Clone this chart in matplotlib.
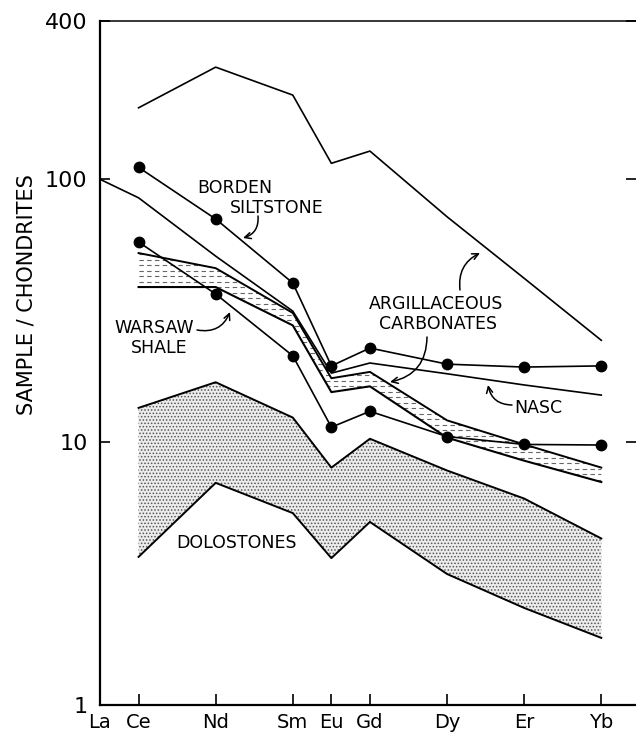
import numpy as np
import matplotlib
matplotlib.use("Agg")
import matplotlib.pyplot as plt
from matplotlib.collections import LineCollection

plt.rcParams['font.family'] = ['DejaVu Sans']
plt.rcParams['hatch.linewidth'] = 0.7

# Rare earth elements and their atomic numbers (x positions)
elements = ['La', 'Ce', 'Nd', 'Sm', 'Eu', 'Gd', 'Dy', 'Er', 'Yb']
atomic_number = [57, 58, 60, 62, 63, 64, 66, 68, 70]
z_ce_yb = atomic_number[1:]

# Chondrite-normalized REE patterns
argill_upper = [187, 267, 209, 115, 128, 72, 42, 24.4]          # Ce..Yb
borden = [111, 70.6, 40.3, 19.5, 22.8, 19.8, 19.3, 19.5]         # Ce..Yb
nasc = [100, 85, 51, 31.5, 18.3, 20.0, 18.2, 16.5, 15.1]         # La..Yb
warsaw = [57.7, 36.6, 21.3, 11.4, 13.1, 10.5, 9.8, 9.75]         # Ce..Yb
argill_band_hi = [52.4, 45.9, 31.0, 17.5, 18.5, 12.1, 9.8, 8.0]  # Ce..Yb
argill_band_lo = [38.9, 38.9, 27.8, 15.5, 16.3, 10.4, 8.5, 7.05]
dolo_hi = [13.5, 16.9, 12.4, 8.0, 10.3, 7.8, 6.1, 4.3]           # Ce..Yb
dolo_lo = [3.66, 7.0, 5.37, 3.62, 4.97, 3.15, 2.34, 1.80]

y_ticks = [1, 10, 100, 400]
y_ticklabels = ['1', '10', '100', '400']

W, H = 636, 734
fig = plt.figure(figsize=(W / 100, H / 100), dpi=100)
ax = fig.add_axes([100 / W, 29 / H, 1 - 100 / W, 684 / H])

ax.set_yscale('log')
ax.set_ylim(1, 400)
ax.set_xlim(57, 70.9)

lw = 1.2

# Dolostones: stippled range
ax.fill_between(z_ce_yb, dolo_lo, dolo_hi, facecolor='#ececec',
                edgecolor='#555555', hatch='.....', linewidth=0)
ax.plot(z_ce_yb, dolo_hi, color='black', lw=lw + 0.2)
ax.plot(z_ce_yb, dolo_lo, color='black', lw=lw + 0.2)

# Argillaceous carbonates: dashed-hatched range
band = ax.fill_between(z_ce_yb, argill_band_lo, argill_band_hi,
                       facecolor='none', edgecolor='none', linewidth=0)
step = 5.5 / 684
rows = np.arange(0, 1, step)
segs = [[(0, r), (1, r)] for r in rows]
hatch_lines = LineCollection(segs, transform=ax.transAxes, colors='#666666',
                             linewidths=0.8, linestyles=[(0, (4, 3))])
ax.add_collection(hatch_lines)
hatch_lines.set_clip_path(band.get_paths()[0], ax.transData)
ax.plot(z_ce_yb, argill_band_hi, color='black', lw=lw + 0.2)
ax.plot(z_ce_yb, argill_band_lo, color='black', lw=lw + 0.3)

# Single-sample and reference patterns
ax.plot(z_ce_yb, argill_upper, color='black', lw=lw)
ax.plot(atomic_number, nasc, color='black', lw=lw)
ax.plot(z_ce_yb, borden, color='black', lw=lw, marker='o', ms=7.5)
ax.plot(z_ce_yb, warsaw, color='black', lw=lw, marker='o', ms=7.5)

# Axes styling
ax.spines['right'].set_visible(False)
ax.spines['left'].set_linewidth(1.6)
ax.spines['bottom'].set_linewidth(1.6)
ax.spines['top'].set_linewidth(1.1)

ax.set_xticks(atomic_number)
ax.set_xticklabels(elements, fontsize=14)
ax.set_yticks(y_ticks)
ax.set_yticklabels(y_ticklabels, fontsize=16)
ax.yaxis.set_minor_locator(matplotlib.ticker.NullLocator())
ax.tick_params(axis='x', direction='in', length=8, width=1.2, pad=6, top=False)
ax.tick_params(axis='y', direction='in', length=7, width=1.2, pad=9,
               left=True, right=True)

ax.set_ylabel('SAMPLE / CHONDRITES', fontsize=15)
ax.yaxis.set_label_coords(-0.118, 0.6)


def ax_xy(px, py):
    """Pixel position in the figure to axes fraction."""
    return ((px - 100) / 536, (705 - py) / 684)


lab = dict(fontsize=12.5, transform=ax.transAxes)
ax.text(*ax_xy(197, 188), 'BORDEN', ha='left', va='center', **lab)
ax.text(*ax_xy(230, 208), 'SILTSTONE', ha='left', va='center', **lab)
ax.text(*ax_xy(436, 304), 'ARGILLACEOUS', ha='center', va='center', **lab)
ax.text(*ax_xy(438, 324), 'CARBONATES', ha='center', va='center', **lab)
ax.text(*ax_xy(154, 328), 'WARSAW', ha='center', va='center', **lab)
ax.text(*ax_xy(159, 348), 'SHALE', ha='center', va='center', **lab)
ax.text(*ax_xy(538, 408), 'NASC', ha='center', va='center', **lab)
ax.text(*ax_xy(236, 543), 'DOLOSTONES', ha='center', va='center', **lab)

arrow_style = '->,head_length=0.45,head_width=0.22'


def pointer(tail, tip, rad):
    ax.annotate('', xy=ax_xy(*tip), xytext=ax_xy(*tail),
                xycoords='axes fraction', textcoords='axes fraction',
                arrowprops=dict(arrowstyle=arrow_style, lw=1.1, color='black',
                                shrinkA=0, shrinkB=0,
                                connectionstyle=f'arc3,rad={rad}'))


pointer((258, 216), (243, 238), -0.4)
pointer((197, 330), (230, 312), 0.4)
pointer((512, 405), (488, 385), -0.4)
pointer((460, 290), (480, 253), -0.35)
pointer((427, 337), (390, 382), -0.4)

fig.savefig('out.png', dpi=100)
